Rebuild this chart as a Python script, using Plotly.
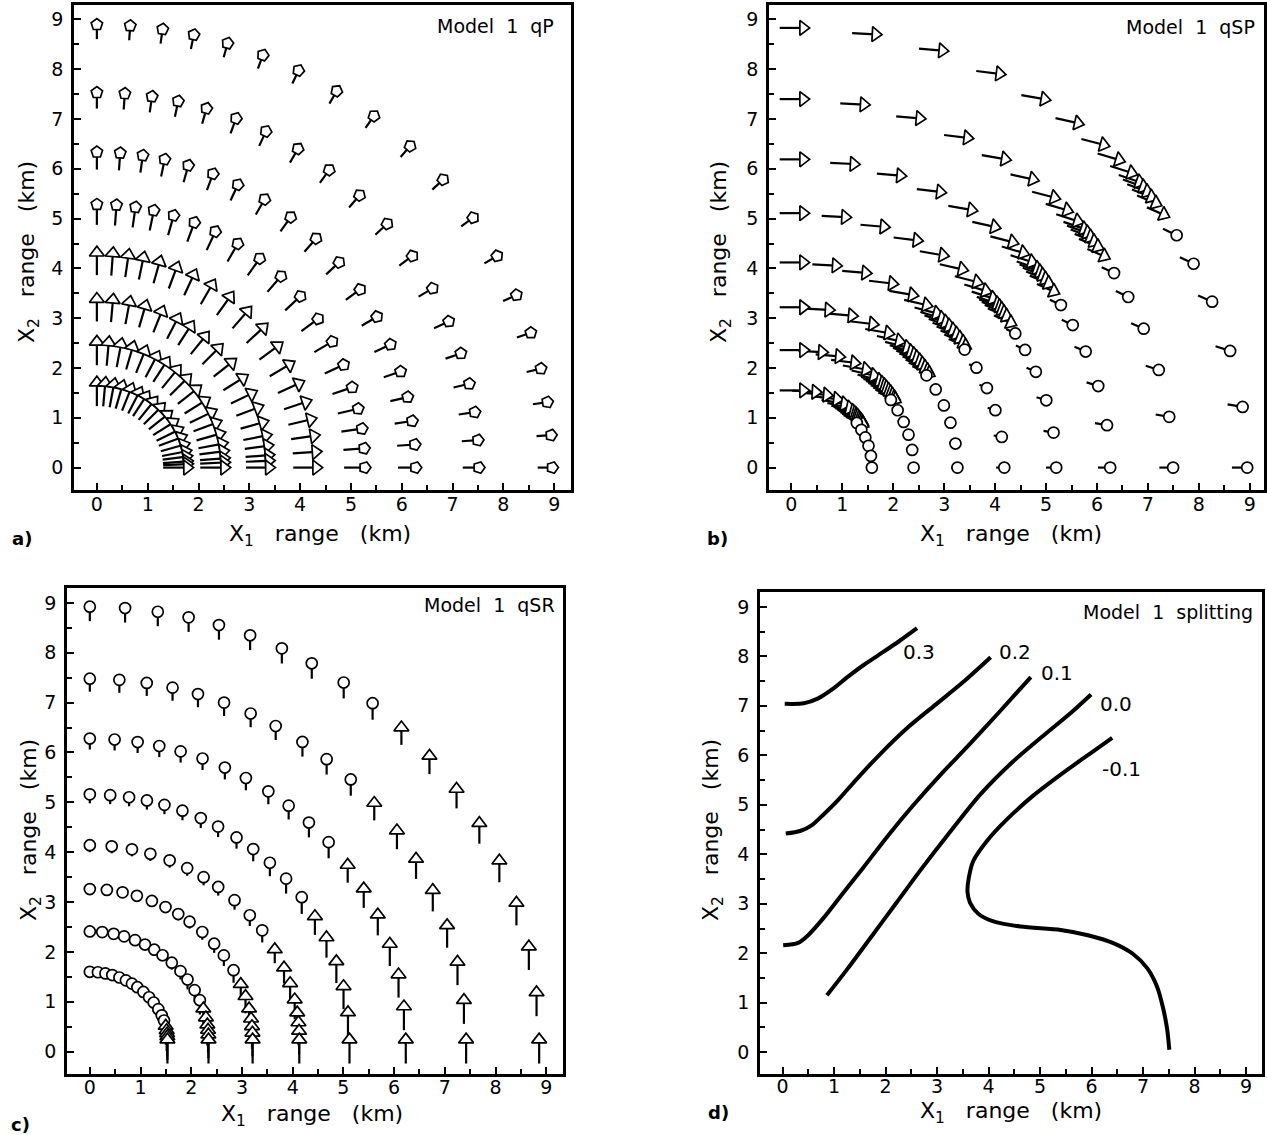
import math
import plotly.graph_objects as go

FONT = "DejaVu Sans"

# ---------------- Panel a : qP ----------------
QP_RING_X = [1.54, 2.27, 3.16, 4.09, 5.07, 6.10, 7.36, 8.82]
QP_RING_Y = [1.47, 2.29, 3.16, 4.09, 5.08, 6.16, 7.37, 8.75]
QP_ARROW_LEN = [0.47, 0.47, 0.45, 0.45, 0.41, 0.35, 0.32, 0.29]
QP_HEAD = ["triangle-up", "triangle-up", "triangle-up", "triangle-up",
           "pentagon", "pentagon", "pentagon", "pentagon"]
QP_RAYSET = ["inner", "inner", "inner", "outer", "outer", "outer", "outer", "outer"]
QP_POS = {
    "inner": [90, 84.6, 79, 73.6, 67.8, 62, 57, 51, 45, 38.5, 32, 26, 20.8, 15.5, 10.9, 7.4, 4.2, 2.3, 0],
    "outer": [90, 85.8, 81.7, 77.7, 73.3, 68.6, 63.7, 58.2, 52.5, 46.5, 40.5, 34.3, 28.5, 22.9, 17.7, 12.9, 8.5, 4.2, 0],
}
QP_POL = {
    "inner": [90, 85, 79.5, 74, 68.5, 63, 57.5, 51.5, 45.5, 39, 32.5, 26.5, 21, 16, 11, 7.5, 4.5, 2.5, 0],
    "outer": [90, 86, 82, 78.5, 74.5, 70, 65.5, 60.5, 55, 49.5, 43.5, 37, 31, 25, 19, 13.5, 8.5, 4, 0],
}

# ---------------- Panel b : qSP ----------------
QSP_RING_X = [1.56, 2.36, 3.20, 4.10, 5.10, 6.14, 7.36, 8.80]
QSP_RING_Y = [1.55, 2.36, 3.22, 4.12, 5.11, 6.19, 7.40, 8.83]
QSP_RAYSET = ["inner", "inner", "inner", "inner", "outer", "outer", "outer", "outer"]
QSP_POS = {
    "inner": [90, 81, 72.6, 64.7, 58.4, 53.6, 50, 48, 46.5, 45, 43.5, 42, 40.5, 39, 37.5,
              35.7, 29.7, 23.3, 16.6, 8.8, 0],
    "outer": [90, 80.7, 71.9, 64, 57.4, 52.1, 47.8, 45, 42.7, 41.1, 40.3, 39.5, 38.6, 37.6, 35.7,
              32.4, 28.1, 22.6, 15.7, 8.1, 0],
}
QSP_DIR = [0, -3, -5, -7, -10, -13, -15, -17, -18, -19, -20, -21, -22, -23, -24,
           -26, -26, -24, -18, -10, 0]
QSP_HEAD = ["triangle-up"] * 15 + ["circle"] * 6
QSP_TRI_LEN = [0.46, 0.46, 0.46, 0.46, 0.46, 0.45, 0.45, 0.44, 0.44, 0.43, 0.43, 0.42, 0.41, 0.40, 0.36]
QSP_CIRC_LEN = [0.04, 0.08, 0.12, 0.16, 0.20, 0.24, 0.27, 0.30]

# ---------------- Panel c : qSR ----------------
QSR_RING_X = [1.53, 2.34, 3.21, 4.13, 5.12, 6.23, 7.42, 8.86]
QSR_RING_Y = [1.57, 2.37, 3.21, 4.07, 5.07, 6.17, 7.35, 8.78]
QSR_RAYSET = ["inner", "inner", "inner", "inner", "outer", "outer", "outer", "outer"]
QSR_POS = {
    "inner": [90, 84, 78.4, 73.2, 67.6, 62.3, 57.1, 52.2, 46.3, 40.2, 34.6, 28, 22, 17, 12, 8, 5, 2.5, 0],
    "outer": [90, 85.5, 81.3, 77.3, 73.3, 69.1, 64.7, 60.4, 55.6, 51, 46.1, 40.9, 35.3, 29.9, 24.3, 18.3, 12.3, 6.2, 0],
}
QSR_LEN_TOP = [0.06, 0.08, 0.10, 0.14, 0.18, 0.22, 0.26, 0.29]
QSR_LEN_BOTTOM = 0.48
QSR_LEN_WEIGHT = [0, 0, 0, 0.01, 0.02, 0.04, 0.07, 0.1, 0.15, 0.22, 0.3, 0.4, 0.52, 0.64, 0.75, 0.85, 0.93, 0.98, 1]
QSR_TRI_BELOW = [14, 18, 24, 28, 32, 38, 44, 47]
QSR_DIR = 90

# ---------------- Panel d : splitting contours ----------------
D_LEVELS = ["0.3", "0.2", "0.1", "0.0", "-0.1"]
D_X = [
    [0.04, 0.41, 0.69, 0.96, 1.27, 1.58, 1.97, 2.28, 2.61],
    [0.06, 0.34, 0.57, 0.80, 1.08, 1.43, 1.89, 2.44, 2.99, 3.53, 4.04],
    [0.01, 0.30, 0.49, 0.80, 1.19, 1.58, 2.05, 2.52, 3.06, 3.61, 4.23, 4.82],
    [0.86, 1.27, 1.74, 2.21, 2.67, 3.22, 3.84, 4.47, 5.09, 5.60, 5.99],
    [6.40, 5.95, 5.40, 4.86, 4.35, 3.96, 3.70, 3.61, 3.59, 3.64, 3.80, 4.08, 4.62, 5.40, 5.95,
     6.41, 6.80, 7.08, 7.27, 7.39, 7.47, 7.51],
]
D_Y = [
    [7.04, 7.05, 7.15, 7.33, 7.59, 7.83, 8.10, 8.32, 8.57],
    [4.42, 4.47, 4.59, 4.81, 5.10, 5.51, 6.02, 6.57, 7.04, 7.50, 7.98],
    [2.16, 2.21, 2.36, 2.72, 3.24, 3.75, 4.38, 4.97, 5.60, 6.20, 6.90, 7.58],
    [1.15, 1.70, 2.36, 3.02, 3.67, 4.41, 5.21, 5.87, 6.42, 6.86, 7.23],
    [6.35, 6.02, 5.61, 5.18, 4.70, 4.26, 3.86, 3.49, 3.24, 3.02, 2.80, 2.65, 2.54, 2.47, 2.36,
     2.21, 1.99, 1.70, 1.33, 0.89, 0.45, 0.05],
]
D_LABEL_X = [2.30, 4.17, 4.97, 6.12, 6.17]
D_LABEL_Y = [8.08, 8.08, 7.66, 7.04, 5.72]

TICKS = list(range(10))


def arrows(cx, cy, phi, length, sym):
    """Tail segments and head markers for arrows centred on (cx, cy)."""
    tx, ty, hx, hy, hs, ha = [], [], [], [], [], []
    for x, y, p, L, s in zip(cx, cy, phi, length, sym):
        dx, dy = math.cos(math.radians(p)), math.sin(math.radians(p))
        x0, y0 = x - L / 2 * dx, y - L / 2 * dy
        x1, y1 = x + L / 2 * dx, y + L / 2 * dy
        tx += [x0, x1, None]
        ty += [y0, y1, None]
        hx.append(x1)
        hy.append(y1)
        hs.append(s)
        ha.append(90 - p)
    return tx, ty, hx, hy, hs, ha


def ring_points(rx, ry, angs):
    return ([rx * math.cos(math.radians(a)) for a in angs],
            [ry * math.sin(math.radians(a)) for a in angs])


# ---- build panel a
a_cx, a_cy, a_phi, a_len, a_sym = [], [], [], [], []
for i in range(8):
    pos = QP_POS[QP_RAYSET[i]]
    xs, ys = ring_points(QP_RING_X[i], QP_RING_Y[i], pos)
    a_cx += xs
    a_cy += ys
    a_phi += QP_POL[QP_RAYSET[i]]
    a_len += [QP_ARROW_LEN[i]] * len(pos)
    a_sym += [QP_HEAD[i]] * len(pos)

# ---- build panel b
b_cx, b_cy, b_phi, b_len, b_sym = [], [], [], [], []
for i in range(8):
    pos = QSP_POS[QSP_RAYSET[i]]
    xs, ys = ring_points(QSP_RING_X[i], QSP_RING_Y[i], pos)
    b_cx += xs
    b_cy += ys
    b_phi += QSP_DIR
    b_len += QSP_TRI_LEN + [QSP_CIRC_LEN[i]] * (len(pos) - len(QSP_TRI_LEN))
    b_sym += QSP_HEAD

# ---- build panel c
c_cx, c_cy, c_phi, c_len, c_sym = [], [], [], [], []
for i in range(8):
    pos = QSR_POS[QSR_RAYSET[i]]
    xs, ys = ring_points(QSR_RING_X[i], QSR_RING_Y[i], pos)
    c_cx += xs
    c_cy += ys
    c_phi += [QSR_DIR] * len(pos)
    c_len += [QSR_LEN_TOP[i] + (QSR_LEN_BOTTOM - QSR_LEN_TOP[i]) * w for w in QSR_LEN_WEIGHT]
    c_sym += ["triangle-up" if a <= QSR_TRI_BELOW[i] else "circle" for a in pos]

fig = go.Figure()

SIZE = {"triangle-up": 13, "pentagon": 12, "circle": 11}


def add_arrows(cx, cy, phi, length, sym, xa, ya):
    tx, ty, hx, hy, hs, ha = arrows(cx, cy, phi, length, sym)
    fig.add_trace(go.Scatter(x=tx, y=ty, mode="lines", xaxis=xa, yaxis=ya,
                             line=dict(color="black", width=2.2), hoverinfo="skip",
                             showlegend=False))
    fig.add_trace(go.Scatter(x=hx, y=hy, mode="markers", xaxis=xa, yaxis=ya,
                             marker=dict(symbol=hs, angle=ha, size=[SIZE[s] for s in hs],
                                         color="white", opacity=1,
                                         line=dict(color="black", width=1.7)),
                             hoverinfo="skip", showlegend=False))


add_arrows(a_cx, a_cy, a_phi, a_len, a_sym, "x", "y")
add_arrows(b_cx, b_cy, b_phi, b_len, b_sym, "x2", "y2")
add_arrows(c_cx, c_cy, c_phi, c_len, c_sym, "x3", "y3")

for xs, ys in zip(D_X, D_Y):
    fig.add_trace(go.Scatter(x=xs, y=ys, mode="lines", xaxis="x4", yaxis="y4",
                             line=dict(color="black", width=4, shape="spline", smoothing=0.8),
                             hoverinfo="skip", showlegend=False))

W, H = 1267, 1135
# pixel frame boxes, axis ranges, x tick-label standoff, y tick-label standoff
dom = {
    1: ([74, 571], [5, 490], [-0.45, 9.33], [-0.45, 9.29], -5, 4),
    2: ([769, 1264], [5, 490], [-0.44, 9.28], [-0.45, 9.29], -5, 4),
    3: ([67, 563], [588, 1074], [-0.45, 9.33], [-0.45, 9.30], -6, 4),
    4: ([760, 1262], [592, 1074], [-0.44, 9.31], [-0.44, 9.30], -7, 4),
}

layout = dict(width=W, height=H, margin=dict(l=0, r=0, t=0, b=0),
              paper_bgcolor="white", plot_bgcolor="white",
              font=dict(family=FONT, size=19, color="black"))


def axis(domain, rng, standoff):
    return dict(domain=domain, range=rng, tickvals=TICKS, ticktext=[str(t) for t in TICKS],
                ticks="inside", ticklen=7, tickwidth=1.8, tickcolor="black",
                minor=dict(dtick=0.5, tick0=0, ticks="inside", ticklen=5, tickwidth=1.5,
                           tickcolor="black", showgrid=False),
                showline=True, mirror=True, linewidth=2.5, linecolor="black",
                showgrid=False, zeroline=False, ticklabelstandoff=standoff,
                tickfont=dict(family=FONT, size=19, color="black"))


for k, (xp, yp, xr, yr, xso, yso) in dom.items():
    xd = [xp[0] / W, xp[1] / W]
    yd = [1 - yp[1] / H, 1 - yp[0] / H]
    sx = "" if k == 1 else str(k)
    xa = axis(xd, xr, xso)
    xa["anchor"] = "y" + sx
    ya = axis(yd, yr, yso)
    ya["anchor"] = "x" + sx
    layout["xaxis" + sx] = xa
    layout["yaxis" + sx] = ya

fig.update_layout(**layout)

SP = "\u00a0"
ann = []
# model titles
for txt, x, y in [("Model 1 qP", 556, 26), ("Model 1 qSP", 1257, 27),
                  ("Model 1 qSR", 557, 605), ("Model 1 splitting", 1255, 612)]:
    ann.append(dict(text=txt.replace(" ", SP + SP), x=x / W, y=1 - y / H, xref="paper", yref="paper",
                    xanchor="right", yanchor="middle", showarrow=False,
                    font=dict(family=FONT, size=19, color="black")))
# panel letters
for txt, x, y in [("a)", 22, 538), ("b)", 717, 538), ("c)", 20, 1124), ("d)", 718, 1112)]:
    ann.append(dict(text="<b>" + txt + "</b>", x=x / W, y=1 - y / H, xref="paper", yref="paper",
                    xanchor="center", yanchor="middle", showarrow=False,
                    font=dict(family=FONT, size=18, color="black")))
# axis titles
XT = "X<sub>1</sub>" + SP * 3 + "range" + SP * 3 + "(km)"
YT = "X<sub>2</sub>" + SP * 3 + "range" + SP * 3 + "(km)"
for x, y in [(320, 535), (1011, 535), (312, 1115), (1011, 1112)]:
    ann.append(dict(text=XT, x=x / W, y=1 - y / H, xref="paper", yref="paper",
                    xanchor="center", yanchor="middle", showarrow=False,
                    font=dict(family=FONT, size=22, color="black")))
for x, y in [(28, 252), (720, 252), (30, 830), (712, 830)]:
    ann.append(dict(text=YT, x=x / W, y=1 - y / H, xref="paper", yref="paper",
                    xanchor="center", yanchor="middle", showarrow=False, textangle=-90,
                    font=dict(family=FONT, size=22, color="black")))
# contour labels
for t, x, y in zip(D_LEVELS, D_LABEL_X, D_LABEL_Y):
    ann.append(dict(text=t, x=x, y=y, xref="x4", yref="y4", xanchor="left", yanchor="middle",
                    showarrow=False, font=dict(family=FONT, size=20, color="black")))

fig.update_layout(annotations=ann)
fig.write_html("out.html", config={"displayModeBar": False},
               post_script="document.body.style.margin='0';document.body.style.overflow='hidden';")
